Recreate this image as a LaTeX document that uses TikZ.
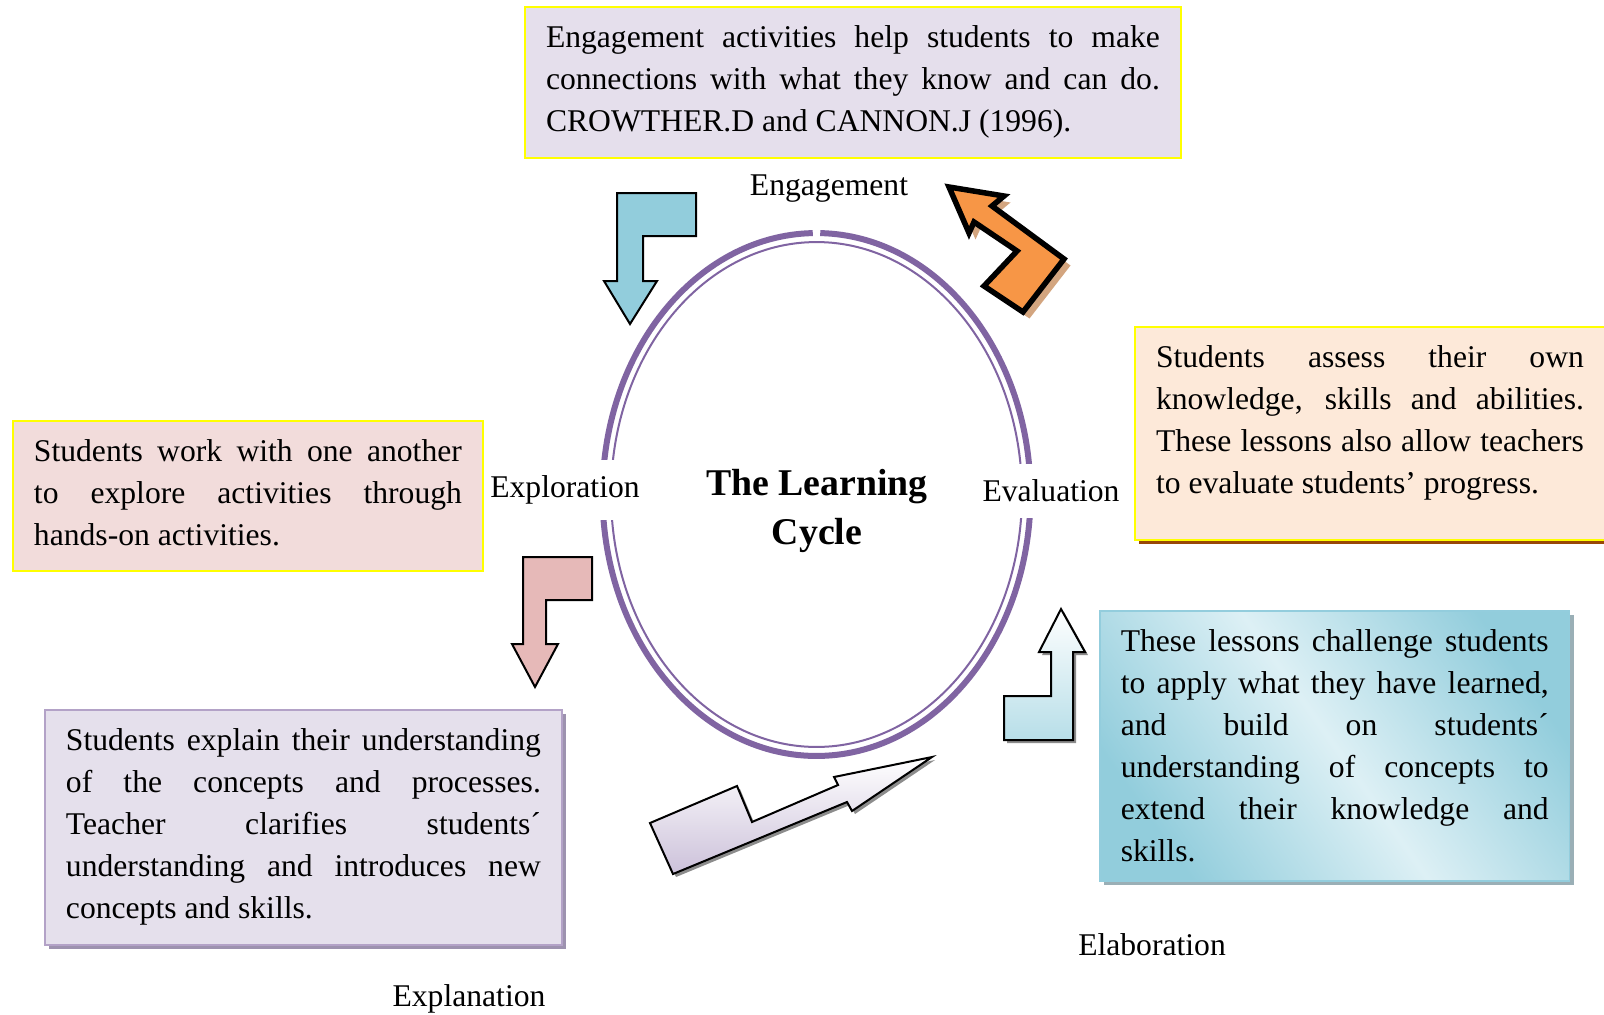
\documentclass[tikz,border=0pt]{standalone}
\usepackage{fontspec}
\setmainfont{Liberation Serif}
\usepackage{tikz}
\usetikzlibrary{shadows}

\definecolor{ringpurple}{HTML}{8064A2}
\definecolor{boxyellow}{HTML}{FFFF00}
\definecolor{engfill}{HTML}{E5DFEC}
\definecolor{explofill}{HTML}{F2DCDB}
\definecolor{evalfill}{HTML}{FDE9D9}
\definecolor{evalshade}{HTML}{984806}
\definecolor{elabdark}{HTML}{92CDDC}
\definecolor{elablight}{HTML}{DDF0F5}
\definecolor{elabline}{HTML}{93CDDD}
\definecolor{elabshade}{HTML}{9AAFB6}
\definecolor{explanfill}{HTML}{E5E0EC}
\definecolor{explanline}{HTML}{B3A2C7}
\definecolor{explanshade}{HTML}{9D92AF}
\definecolor{arrowblue}{HTML}{92CDDC}
\definecolor{arroworange}{HTML}{F79646}
\definecolor{orangeshade}{HTML}{D3A57F}
\definecolor{arrowpink}{HTML}{E6B9B8}
\definecolor{arrowlilac}{HTML}{CCC1DA}
\definecolor{arrowcyan}{HTML}{B7DEE8}
\definecolor{arrowshade}{HTML}{8C8C8C}

\tolerance=10000
\hbadness=10000
\newcommand{\padbelow}[1]{\vrule width 0pt depth #1}

\begin{document}
\begin{tikzpicture}[x=0.02cm,y=-0.02cm]
\tikzstyle{every node}+=[font=\fontsize{18}{23.9}\selectfont]
\tikzstyle{infobox}=[anchor=north west, text width=8.56cm, inner xsep=0.42cm, inner ysep=0.38cm, align=justify, line width=0.04cm]
\tikzstyle{cutlabel}=[fill=white, inner xsep=2pt, inner ysep=0.32cm]
\tikzstyle{bentarrow}=[draw=black, line width=0.04cm]
\tikzstyle{ringline}=[draw=ringpurple]
\useasboundingbox (0,0) rectangle (1604,1014);
\fill [white] (0,0) rectangle (1604,1014);
\coordinate (c) at (816.5,494.5);
\draw [ringline, line width=0.12cm] (c) ++(91:4.28cm and 5.23cm) arc [start angle=91, end angle=449, x radius=4.28cm, y radius=5.23cm];
\draw [ringline, line width=0.04cm] (c) ellipse [x radius=4.11cm, y radius=5.05cm];
\draw (817,511) node [font=\bfseries\fontsize{21.5}{27.9}\selectfont, align=center] (title) {The Learning\\Cycle};
\draw (829,189) node (eng) {Engagement};
\draw (565,490) node [cutlabel] (explo) {Exploration};
\draw (1051,491) node [cutlabel] (evalu) {Evaluation};
\draw (1152,945) node (elabo) {Elaboration};
\draw (469,999) node (explan) {Explanation};
\node [infobox, draw=boxyellow, fill=engfill, text width=12.28cm] (engbox) at (524,6) {Engagement activities help students to make\linebreak connections with what they know and can do.\linebreak CROWTHER.D and CANNON.J (1996).};
\node [infobox, draw=boxyellow, fill=explofill] (explobox) at (12,420) {Students work with one another\linebreak to explore activities through\linebreak hands-on activities.\padbelow{0.13cm}};
\node [infobox, draw=boxyellow, fill=evalfill, drop shadow={shadow xshift=0.08cm, shadow yshift=-0.08cm, fill=evalshade, opacity=1}] (evalbox) at (1134,326) {Students assess their own\linebreak knowledge, skills and abilities.\linebreak These lessons also allow teachers\linebreak to evaluate students’ progress.\padbelow{0.55cm}};
\node [infobox, draw=elabline, line width=0.03cm, top color=elabdark, bottom color=elabdark, middle color=elablight, shading angle=-55, drop shadow={shadow xshift=0.08cm, shadow yshift=-0.08cm, fill=elabshade, opacity=1}] (elabbox) at (1099,610) {These lessons challenge students\linebreak to apply what they have learned,\linebreak and build on students´\linebreak understanding of concepts to\linebreak extend their knowledge and\linebreak skills.};
\node [infobox, draw=explanline, fill=explanfill, text width=9.5cm, drop shadow={shadow xshift=0.08cm, shadow yshift=-0.08cm, fill=explanshade, opacity=1}] (explanbox) at (44,709) {Students explain their understanding\linebreak of the concepts and processes.\linebreak Teacher clarifies students´\linebreak understanding and introduces new\linebreak concepts and skills.};
\draw [bentarrow, fill=arrowblue] (617,193) -- (696,193) -- (696,236) -- (643,236) -- (643,281) -- (657,281) -- (630,324) -- (604,281) -- (617,281) -- cycle;
\draw [bentarrow, fill=arrowpink] (523,557) -- (592,557) -- (592,600) -- (546,600) -- (546,644) -- (558,644) -- (535,687) -- (512,644) -- (523,644) -- cycle;
\draw [bentarrow, top color=white, bottom color=arrowcyan, drop shadow={shadow xshift=0.06cm, shadow yshift=-0.06cm, fill=arrowshade, opacity=1}] (1061,609) -- (1085,652) -- (1073,652) -- (1073,740) -- (1004,740) -- (1004,696) -- (1051,696) -- (1051,652) -- (1039,652) -- cycle;
\draw [bentarrow, top color=white, bottom color=arrowlilac, drop shadow={shadow xshift=0.06cm, shadow yshift=-0.06cm, fill=arrowshade, opacity=1}] (650,823) -- (737,786) -- (752,822) -- (838,785) -- (834,777) -- (932,757) -- (852,811) -- (847,802) -- (673,874) -- cycle;
\draw [draw=black, line width=0.11cm, fill=arroworange, drop shadow={shadow xshift=0.13cm, shadow yshift=-0.13cm, fill=orangeshade, opacity=1}] (949,187) -- (1004,196) -- (992,206) -- (1064,259) -- (1023,312) -- (984,286) -- (1017,251) -- (974,222) -- (969,233) -- cycle;
\end{tikzpicture}
\end{document}
